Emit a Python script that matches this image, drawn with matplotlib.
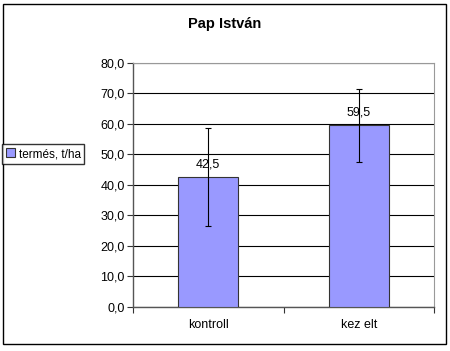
import numpy as np
import matplotlib.pyplot as plt
from matplotlib.patches import Rectangle, Patch

# chart data
categories = ['kontroll', 'kez elt']
termes = [42.5, 59.5]
hiba = [16.0, 12.0]
yticks = np.arange(0, 81, 10)

plt.rcParams['font.family'] = ['Liberation Sans', 'DejaVu Sans']

fig = plt.figure(figsize=(4.5, 3.51), dpi=100)
fig.patch.set_facecolor('white')
ax = fig.add_axes([133 / 450, 1 - 306.7 / 351, 301 / 450, 243.7 / 351])

x = np.arange(len(categories))
ax.bar(x, termes, width=0.4, color='#9999FF', edgecolor='#333333', linewidth=0.8, zorder=3)
ax.errorbar(x, termes, yerr=hiba, fmt='none', ecolor='black', elinewidth=0.8,
            capsize=2.5, capthick=0.8, zorder=4)

for xi, v in zip(x, termes):
    ax.text(xi, v + 4.2, ('%.1f' % v).replace('.', ','), ha='center', va='center',
            fontsize=9, zorder=5)

ax.set_xlim(-0.5, len(categories) - 0.5)
ax.set_ylim(0, 80)
ax.set_yticks(yticks)
ax.set_yticklabels([('%.1f' % t).replace('.', ',') for t in yticks], fontsize=9)
ax.set_xticks(x)
ax.set_xticklabels(categories, fontsize=9)
ax.tick_params(axis='x', which='major', length=0, pad=9)
ax.set_xticks(np.arange(-0.5, len(categories)), minor=True)
ax.tick_params(axis='x', which='minor', length=4, width=0.8, color='#333333')
ax.tick_params(axis='y', length=4, width=0.8, color='#333333', pad=2)

ax.yaxis.grid(True, color='black', linewidth=0.8, zorder=0)
ax.set_axisbelow(True)
for side in ['top', 'right']:
    ax.spines[side].set_color('#999999')
    ax.spines[side].set_linewidth(0.8)
for side in ['left', 'bottom']:
    ax.spines[side].set_color('#555555')
    ax.spines[side].set_linewidth(1.0)

fig.text(225 / 450, 1 - 24 / 351, 'Pap István', ha='center', va='center',
         fontsize=10.5, fontweight='bold')

# legend on the left
handle = Patch(facecolor='#9999FF', edgecolor='#333333', linewidth=0.8)
fig.legend([handle], ['termés, t/ha'], loc='center left',
           bbox_to_anchor=(2 / 450, 1 - 154 / 351), fontsize=8.5, frameon=True,
           fancybox=False, edgecolor='black', handlelength=0.8, handleheight=0.8,
           handletextpad=0.3, borderpad=0.3, borderaxespad=0)

# outer chart border
fig.patches.append(Rectangle((3 / 450, 1 - 344 / 351), 443 / 450, 340 / 351,
                             transform=fig.transFigure, fill=False,
                             edgecolor='black', linewidth=1.0))

fig.savefig('out.png', dpi=100)
